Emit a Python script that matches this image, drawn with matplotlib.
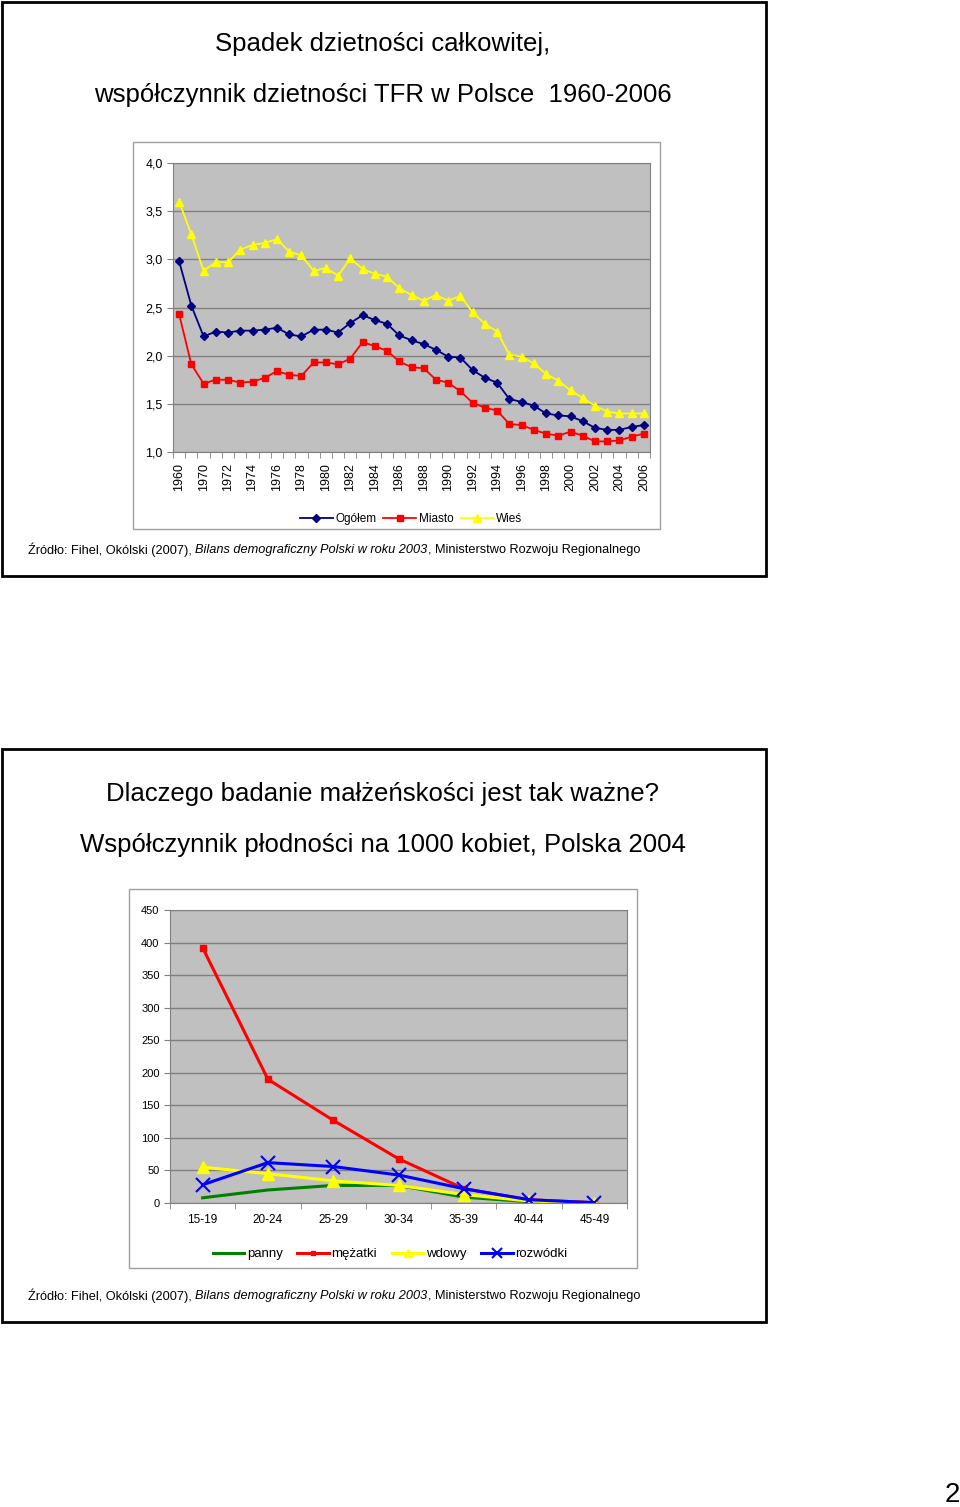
import matplotlib.pyplot as plt
from matplotlib.patches import Rectangle
import numpy as np

W, H = 960, 1507

# ---- data: chart 1 (TFR)
years = ['1960', '1965'] + [str(y) for y in range(1970, 2007)]
ogolem = [2.98, 2.52, 2.20, 2.25, 2.24, 2.26, 2.26, 2.27, 2.29, 2.22, 2.20, 2.27, 2.27,
          2.24, 2.34, 2.42, 2.37, 2.33, 2.21, 2.16, 2.12, 2.06, 1.99, 1.98, 1.85, 1.77,
          1.72, 1.55, 1.52, 1.48, 1.40, 1.38, 1.37, 1.32, 1.25, 1.23, 1.23, 1.26, 1.28]
miasto = [2.43, 1.91, 1.71, 1.75, 1.75, 1.72, 1.73, 1.77, 1.84, 1.80, 1.79, 1.93, 1.93,
          1.91, 1.97, 2.14, 2.10, 2.05, 1.94, 1.88, 1.87, 1.75, 1.72, 1.63, 1.51, 1.46,
          1.43, 1.29, 1.28, 1.23, 1.19, 1.17, 1.21, 1.17, 1.11, 1.11, 1.12, 1.16, 1.19]
wies = [3.60, 3.26, 2.88, 2.97, 2.97, 3.10, 3.15, 3.17, 3.21, 3.08, 3.04, 2.88, 2.91,
        2.83, 3.01, 2.90, 2.85, 2.82, 2.70, 2.63, 2.57, 2.63, 2.57, 2.62, 2.45, 2.33,
        2.25, 2.01, 1.99, 1.92, 1.81, 1.74, 1.64, 1.56, 1.48, 1.42, 1.40, 1.40, 1.40]
tfr_ticks = [1.0, 1.5, 2.0, 2.5, 3.0, 3.5, 4.0]

# ---- data: chart 2 (plodnosc)
ages = ['15-19', '20-24', '25-29', '30-34', '35-39', '40-44', '45-49']
panny = [8, 20, 27, 27, 9, 2, 0.5]
mezatki = [392, 190, 127, 68, 22, 5, 0.5]
wdowy = [55, 45, 34, 27, 13, 3, 0]
rozwodki = [28, 62, 56, 43, 22, 5, 0.5]
pl_ticks = list(range(0, 451, 50))

plt.rcParams['font.family'] = ['Liberation Sans', 'DejaVu Sans']

fig = plt.figure(figsize=(W / 100, H / 100), dpi=100)


def fx(x):
    return x / W


def fy(y):
    return 1 - y / H


def box(x0, y0, x1, y1, color, lw):
    fig.patches.append(Rectangle((fx(x0), fy(y1)), fx(x1) - fx(x0), fy(y0) - fy(y1),
                                 transform=fig.transFigure, fill=False,
                                 edgecolor=color, linewidth=lw))


def source(y):
    # normal + italic + normal pieces, placed one after another
    t = fig.text(fx(28), fy(y), 'Źródło: Fihel, Okólski (2007), ', fontsize=9.15, va='center')
    fig.canvas.draw()
    r = fig.canvas.get_renderer()
    bb = t.get_window_extent(r)
    t2 = fig.text(bb.x1 / W, fy(y), 'Bilans demograficzny Polski w roku 2003',
                  fontsize=9.15, va='center', style='italic')
    bb2 = t2.get_window_extent(r)
    fig.text(bb2.x1 / W, fy(y), ', Ministerstwo Rozwoju Regionalnego', fontsize=9.15, va='center')


def style_ax(ax, n):
    ax.set_facecolor('#C0C0C0')
    for s in ax.spines.values():
        s.set_color('#808080')
    ax.grid(axis='y', color='#808080', linewidth=1)
    ax.set_axisbelow(True)
    ax.set_xlim(-0.5, n - 0.5)
    ax.set_xticks(np.arange(n + 1) - 0.5, minor=True)
    ax.tick_params(axis='x', which='major', length=0)
    ax.tick_params(axis='x', which='minor', length=4, color='#808080')
    ax.tick_params(axis='y', length=4, color='#808080')


# ---- slide frames
box(2, 2, 766, 576, 'black', 2)
box(2, 749, 766, 1322, 'black', 2)
box(133, 142, 660, 529, '#A0A0A0', 1)
box(129, 889, 637, 1268, '#A0A0A0', 1)

# ---- top chart
fig.text(fx(383), fy(44), 'Spadek dzietności całkowitej,', fontsize=18.5, ha='center', va='center')
fig.text(fx(383), fy(95), 'współczynnik dzietności TFR w Polsce  1960-2006', fontsize=18.5,
         ha='center', va='center')

ax1 = fig.add_axes([fx(173), fy(452), fx(650) - fx(173), fy(163) - fy(452)])
x = np.arange(len(years))
ax1.plot(x, ogolem, color='#000080', marker='D', markersize=4.5, linewidth=1.3, label='Ogółem')
ax1.plot(x, miasto, color='#FF0000', marker='s', markersize=5, linewidth=1.3, label='Miasto')
ax1.plot(x, wies, color='#FFFF00', marker='^', markersize=6, linewidth=1.3, label='Wieś')
style_ax(ax1, len(years))
ax1.set_ylim(1.0, 4.0)
ax1.set_yticks(tfr_ticks)
ax1.set_yticklabels([f'{v:.1f}'.replace('.', ',') for v in tfr_ticks], fontsize=9)
ax1.set_xticks(x[::2])
ax1.set_xticklabels(years[::2], rotation=90, fontsize=9)
ax1.tick_params(axis='x', which='major', pad=8)
ax1.legend(loc='center', bbox_to_anchor=(fx(411), fy(519)), bbox_transform=fig.transFigure,
           ncol=3, frameon=False, fontsize=8.5, handlelength=2.8, handletextpad=0.2,
           columnspacing=0.6)
source(550)

# ---- bottom chart
fig.text(fx(383), fy(794), 'Dlaczego badanie małżeńskości jest tak ważne?', fontsize=18.5,
         ha='center', va='center')
fig.text(fx(383), fy(845), 'Współczynnik płodności na 1000 kobiet, Polska 2004', fontsize=18.5,
         ha='center', va='center')

ax2 = fig.add_axes([fx(170), fy(1203), fx(627) - fx(170), fy(910) - fy(1203)])
x2 = np.arange(len(ages))
ax2.plot(x2, panny, color='#008000', linewidth=2.2, label='panny')
ax2.plot(x2, mezatki, color='#FF0000', marker='s', markersize=5, linewidth=2.2, label='mężatki')
ax2.plot(x2, wdowy, color='#FFFF00', marker='^', markersize=9, linewidth=2.2, label='wdowy')
ax2.plot(x2, rozwodki, color='#0000FF', marker='x', markersize=10, markeredgewidth=1.5,
         linewidth=2.2, label='rozwódki')
style_ax(ax2, len(ages))
ax2.set_ylim(0, 450)
ax2.set_yticks(pl_ticks)
ax2.set_yticklabels([str(v) for v in pl_ticks], fontsize=8)
ax2.set_xticks(x2)
ax2.set_xticklabels(ages, fontsize=8.5)
ax2.tick_params(axis='x', which='major', pad=8)
leg = ax2.legend(loc='center', bbox_to_anchor=(fx(390), fy(1254)), bbox_transform=fig.transFigure,
                 ncol=4, frameon=False, fontsize=9.5, handlelength=2.4, handletextpad=0.2,
                 columnspacing=1.1, markerscale=0.7)
source(1296)

fig.text(fx(945), fy(1495), '2', fontsize=20, va='center')

fig.savefig('out.png', dpi=100)
